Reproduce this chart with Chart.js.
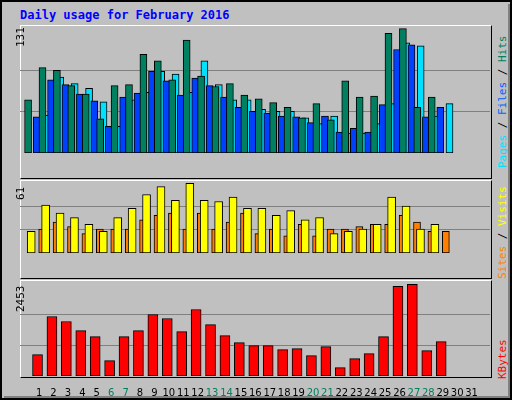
<!DOCTYPE html>
<html><head><meta charset="utf-8">
<script src="https://cdn.jsdelivr.net/npm/chart.js@4"></script>
<style>
body{margin:0;background:#fff;}
#wrap{position:relative;width:512px;height:400px;background:#c0c0c0;box-sizing:border-box;border:2px solid #000;}
#shadowR{position:absolute;left:508px;top:4px;width:2px;height:394px;background:#808080}
#shadowB{position:absolute;left:4px;top:396px;width:506px;height:2px;background:#808080}
.panel{position:absolute;left:18px;width:470px;box-sizing:content-box;border-top:1px solid #fff;border-left:1px solid #fff;border-right:1px solid #000;border-bottom:1px solid #000}
canvas{position:absolute}
.rot{position:absolute;transform:rotate(-90deg);transform-origin:0 0;white-space:nowrap;font:11px "DejaVu Sans Mono",monospace}
#title{position:absolute;left:18px;top:6px;font:bold 12px "DejaVu Sans Mono",monospace;color:#0000ff}
</style></head><body>
<div id="wrap">
<div id="title">Daily usage for February 2016</div>
<div class="panel" style="top:23px;height:152px"></div>
<div class="panel" style="top:178px;height:97px"></div>
<div class="panel" style="top:278px;height:96px"></div>
<div style="position:absolute;left:0;top:0;width:512px;height:400px">
<canvas id="c1" style="left:18px;top:23px;width:470px;height:152px"></canvas>
<canvas id="c2" style="left:18px;top:178px;width:470px;height:97px"></canvas>
<canvas id="c3" style="left:18px;top:278px;width:470px;height:120px"></canvas>
</div>
<div class="rot" style="left:12px;top:45px">131</div>
<div class="rot" style="left:12px;top:198px">61</div>
<div class="rot" style="left:12px;top:310px">2453</div>
<div class="rot" style="left:494px;top:166px"><span style="color:#00e0ff">Pages</span> / <span style="color:#0060ff">Files</span> / <span style="color:#008060">Hits</span></div>
<div class="rot" style="left:494px;top:277px"><span style="color:#ff8000">Sites</span> / <span style="color:#ffff00">Visits</span></div>
<div class="rot" style="left:494px;top:377px"><span style="color:#ff0000">KBytes</span></div>
</div>
<div id="shadowR"></div><div id="shadowB"></div>
<script>
const days = Array.from({length:31},(_,i)=>i+1);
const weekend = [6,7,13,14,20,21,27,28];
const hits  = [56,90,87,71,62,36,71,72,104,97,77,119,81,70,73,61,57,53,48,37,52,35,76,59,60,126,131,48,59];
const files = [38,77,72,62,55,28,59,63,86,76,61,79,71,59,48,44,42,39,38,32,39,22,26,22,51,109,114,38,48];
const pages = [40,80,73,68,54,28,56,64,86,83,64,97,72,56,56,46,44,44,37,31,39,21,21,31,52,116,113,39,52];
const visits= [19,42,35,31,25,19,31,39,51,58,46,61,46,45,49,39,39,33,37,29,31,17,19,21,25,49,41,21,25];
const sites = [21,27,23,17,21,21,21,29,33,35,21,35,21,27,35,17,21,15,25,15,21,21,23,25,25,33,27,19,19];
const kbytes= [573,1593,1459,1217,1056,412,1056,1217,1647,1539,1190,1781,1378,1083,895,814,814,707,734,546,788,224,465,600,1056,2399,2453,680,922];
const maxHits=131, maxVisits=61, maxKB=2453;

function pts(arr, shift){return arr.map((v,i)=>({x:days[i]+shift,y:v}));}
function ds(arr,shift,color,w,order){return {data:pts(arr,shift),backgroundColor:color,borderColor:'#000',borderWidth:1,barThickness:w,order:order,borderSkipped:false};}
function opts(max,ref,showX){
  return {responsive:false,animation:false,devicePixelRatio:1,
    layout:{padding:0},
    plugins:{legend:{display:false},tooltip:{enabled:false}},
    scales:{
      x:{type:'linear',min:0.2,max:31.75,display:showX,grid:{display:false},border:{display:false},
        afterBuildTicks:s=>{s.ticks=days.map(d=>({value:d}));},
        afterFit:s=>{s.height=24;},
        ticks:{autoSkip:false,maxRotation:0,font:{family:'DejaVu Sans',size:10},
          color:c=>weekend.includes(c.tick.value)?'#008060':'#000',callback:v=>String(v)}},
      y:{min:0,max:max,display:true,
        afterFit:s=>{s.width=0;},
        afterBuildTicks:s=>{s.ticks=[{value:ref/3},{value:2*ref/3}];},
        ticks:{display:false},border:{display:false},
        grid:{color:'#808080',lineWidth:1,drawTicks:false}}
    }};
}
function mk(id,w,h){const c=document.getElementById(id);c.width=w;c.height=h;return c;}
new Chart(mk('c1',470,152),{type:'bar',data:{datasets:[
  ds(hits,-0.28,'#008060',7,0), ds(files,-0.17,'#0040ff',7,1), ds(pages,-0.02,'#00e0ff',7,2)]},
  options:opts(maxHits*151.7/147.4,maxHits,false)});
new Chart(mk('c2',470,97),{type:'bar',data:{datasets:[
  ds(visits,-0.27,'#ffff00',8,0), ds(sites,-0.03,'#ff8000',7,1)]},
  options:opts(maxVisits*96.7/92.4,maxVisits,false)});
new Chart(mk('c3',470,120),{type:'bar',data:{datasets:[
  ds(kbytes,-0.11,'#ff0000',10,0)]},
  options:opts(maxKB*95.7/91.3,maxKB,true)});
</script>
</body></html>
